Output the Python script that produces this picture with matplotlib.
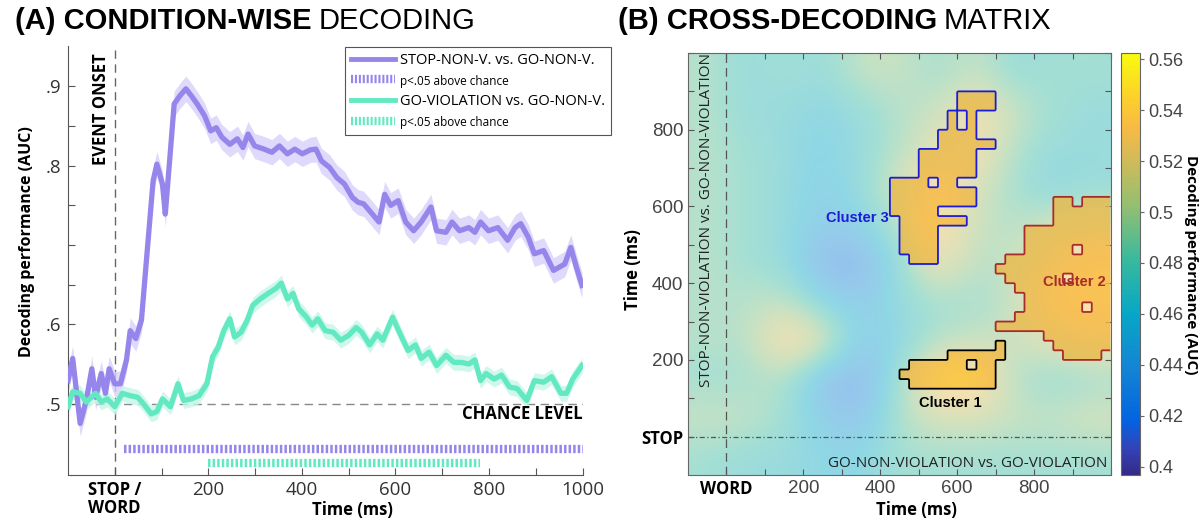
import numpy as np
import matplotlib
matplotlib.use('Agg')
import matplotlib.pyplot as plt
from matplotlib.colors import LinearSegmentedColormap
from matplotlib.lines import Line2D
from matplotlib import font_manager

# ---------------- data: panel A (condition-wise decoding) ----------------
stop_t = [-100, -90, -74, -61, -49, -41, -29, -20, -12, 0, 12, 25, 33, 45, 57, 70, 82, 90, 102, 108,
          119, 127, 139, 152, 164, 176, 192, 205, 217, 229, 246, 262, 274, 285, 299, 319, 336, 352, 369, 385,
          401, 418, 430, 442, 459, 475, 491, 508, 520, 532, 545, 565, 577, 590, 606, 622, 639, 655, 676, 688,
          708, 721, 737, 757, 770, 782, 799, 819, 840, 856, 868, 884, 897, 917, 938, 950, 962, 975, 987, 999]
stop_auc = [.529, .557, .475, .504, .544, .508, .538, .513, .544, .525, .525, .555, .592, .582, .605, .697, .781, .802, .777, .739,
            .819, .878, .888, .897, .888, .878, .863, .844, .848, .836, .827, .834, .823, .840, .825, .821, .817, .825, .815, .821,
            .815, .820, .821, .806, .798, .785, .777, .760, .754, .752, .743, .729, .764, .750, .756, .729, .718, .729, .748, .718,
            .716, .729, .718, .722, .716, .729, .718, .722, .706, .722, .727, .710, .689, .693, .668, .672, .676, .697, .672, .649]
stop_sem = 0.016

viol_t = [-100, -90, -74, -61, -41, -29, -16, 0, 16, 33, 49, 61, 78, 90, 102, 119, 135, 147, 164, 180,
          197, 209, 221, 233, 246, 256, 270, 283, 295, 311, 328, 344, 356, 369, 381, 393, 410, 422, 434, 450,
          467, 483, 500, 516, 528, 545, 561, 573, 594, 610, 627, 643, 655, 672, 688, 708, 725, 741, 757, 770,
          782, 794, 811, 827, 844, 860, 881, 897, 917, 934, 954, 966, 979, 999]
viol_auc = [.496, .515, .513, .502, .513, .502, .506, .496, .513, .510, .508, .500, .487, .490, .506, .496, .525, .504, .506, .510,
            .525, .559, .571, .592, .607, .584, .590, .605, .624, .632, .639, .645, .652, .632, .639, .620, .609, .599, .607, .592,
            .590, .580, .586, .596, .590, .574, .588, .580, .609, .588, .567, .574, .557, .565, .548, .561, .552, .552, .550, .555,
            .529, .538, .531, .536, .521, .519, .504, .529, .527, .534, .513, .513, .531, .548]
viol_sem = 0.010

stop_sig = [(20, 1000)]
viol_sig = [(200, 780)]

# ---------------- data: panel B (cross-decoding matrix) ----------------
# rows: train time 950 ... -50 ms, cols: test time -50 ... 950 ms (100 ms bins)
heat = [
    [.49, .47, .48, .47, .50, .50, .48, .50, .47, .48, .48],
    [.49, .47, .47, .46, .47, .49, .50, .53, .50, .48, .47],
    [.49, .48, .47, .455, .47, .49, .52, .53, .49, .47, .47],
    [.49, .48, .47, .45, .47, .51, .535, .51, .48, .46, .47],
    [.49, .48, .47, .445, .455, .49, .54, .50, .49, .51, .52],
    [.49, .48, .47, .425, .42, .47, .53, .49, .50, .53, .535],
    [.49, .49, .50, .46, .445, .47, .48, .48, .50, .535, .535],
    [.49, .49, .54, .525, .445, .46, .49, .50, .50, .52, .53],
    [.48, .48, .49, .43, .42, .48, .545, .545, .49, .47, .48],
    [.50, .50, .48, .45, .435, .49, .51, .51, .50, .50, .51],
    [.48, .47, .47, .46, .46, .48, .48, .48, .48, .48, .48],
]

# significant clusters on a 25 ms grid (44 x 44), runs of (row, first col, last col); row 0 = top
cluster1_runs = [(30, 32, 32), (31, 27, 32), (32, 23, 31), (33, 22, 31), (34, 23, 31)]
cluster2_runs = [(15, 38, 39), (15, 41, 43), (16, 38, 43), (17, 38, 43), (18, 35, 43), (19, 35, 43),
                 (20, 35, 43), (21, 33, 43), (22, 32, 43), (23, 33, 43), (24, 34, 43), (25, 35, 43),
                 (26, 35, 43), (27, 34, 43), (28, 32, 43), (29, 37, 43), (30, 38, 43), (31, 39, 42)]
cluster3_runs = [(4, 28, 31), (5, 28, 31), (6, 27, 29), (7, 27, 29), (8, 26, 29), (9, 26, 31),
                 (10, 24, 29), (11, 24, 29), (12, 24, 29), (13, 21, 27), (14, 21, 29), (15, 21, 29),
                 (16, 21, 25), (17, 22, 28), (18, 22, 25), (19, 22, 25), (20, 22, 25), (21, 23, 25)]
cluster_holes = [(32, 29), (20, 40), (23, 39), (26, 41), (6, 28), (7, 28), (13, 25)]

# ---------------- style ----------------
W, H = 1200, 532
purple, purple_fill = '#9686ec', '#d8d0fa'
green, green_fill = '#62e9c1', '#c4f6e6'
names = {f.name for f in font_manager.fontManager.ttflist}
narrow = 'Liberation Sans Narrow' if 'Liberation Sans Narrow' in names else 'Liberation Sans'
label_font = 'Open Sans'
tick_font = 'Liberation Sans'

parula_pts = [(0 / 63, (0.2081, 0.1663, 0.5292)), (4 / 63, (0.1959, 0.2645, 0.7279)),
              (8 / 63, (0.0117, 0.3875, 0.8820)), (16 / 63, (0.0793, 0.5200, 0.8312)),
              (24 / 63, (0.0228, 0.6535, 0.7768)), (32 / 63, (0.2178, 0.7250, 0.6193)),
              (40 / 63, (0.5709, 0.7485, 0.4494)), (48 / 63, (0.8507, 0.7299, 0.3360)),
              (52 / 63, (0.9739, 0.7314, 0.2666)), (56 / 63, (0.9880, 0.8066, 0.1794)),
              (1.0, (0.9763, 0.9831, 0.0538))]
parula = LinearSegmentedColormap.from_list('parula', parula_pts)
vmin, vmax = 0.3967, 0.5625

fig = plt.figure(figsize=(W / 100, H / 100), dpi=100)

# ================= panel A =================
ax1 = fig.add_axes([68 / W, 1 - 475 / H, 514.5 / W, 429 / H])
ax1.set_xlim(-100, 1000)
ax1.set_ylim(0.41, 0.951)

for t, v, sem, c, fc in [(stop_t, stop_auc, stop_sem, purple, purple_fill),
                         (viol_t, viol_auc, viol_sem, green, green_fill)]:
    t = np.array(t)
    v = np.array(v)
    ax1.fill_between(t, v - sem, v + sem, color=fc, lw=0, alpha=0.8, zorder=2)
    ax1.plot(t, v, color=c, lw=3.8, zorder=3, solid_joinstyle='round')

hatch = (0, (0.3, 0.25))
for s, e in stop_sig:
    ax1.plot([s, e], [0.4425, 0.4425], color=purple, lw=6, linestyle=hatch, dash_capstyle='butt')
for s, e in viol_sig:
    ax1.plot([s, e], [0.425, 0.425], color=green, lw=6, linestyle=hatch, dash_capstyle='butt')

ax1.axhline(0.5, color='#888888', lw=1, dashes=(6, 4), zorder=1)
ax1.axvline(0, color='#666666', lw=1, dashes=(6, 4), zorder=1)

ax1.spines['top'].set_visible(False)
ax1.spines['right'].set_visible(False)
for s in ('left', 'bottom'):
    ax1.spines[s].set_color('#555555')
ax1.set_xticks(np.arange(0, 1001, 100))
ax1.set_xticklabels(['STOP /\nWORD', '', '200', '', '400', '', '600', '', '800', '', '1000'])
ax1.set_yticks(np.arange(0.5, 0.901, 0.05))
ax1.set_yticklabels(['.5', '', '.6', '', '', '', '.8', '', '.9'])
ax1.tick_params(direction='in', length=5, color='#555555', labelsize=13.5, labelcolor='#333333')
ax1.tick_params(axis='y', pad=5)
ax1.tick_params(axis='x', pad=4)
for lab in ax1.get_xticklabels() + ax1.get_yticklabels():
    lab.set_fontfamily(label_font)
first = ax1.get_xticklabels()[0]
first.set_fontweight('bold')
first.set_fontsize(12)
first.set_color('black')
first.set_linespacing(1.0)
first.set_multialignment('left')

ax1.set_xlabel('Time (ms)', fontfamily=label_font, fontweight='bold', fontsize=12)
ax1.xaxis.set_label_coords(0.552, -0.082)
ax1.xaxis.label.set_verticalalignment('center')
ax1.set_ylabel('Decoding performance (AUC)', fontfamily=label_font, fontweight='bold', fontsize=11.5)
ax1.yaxis.set_label_coords(-0.08, 0.543)
ax1.yaxis.label.set_verticalalignment('center')

ax1.text(-29, 0.872, 'EVENT ONSET', rotation=90, ha='center', va='center',
         fontfamily=label_font, fontweight='bold', fontsize=12)
ax1.text(1000, 0.4865, 'CHANCE LEVEL', ha='right', va='center',
         fontfamily=label_font, fontweight='bold', fontsize=12)

handles = [Line2D([], [], color=purple, lw=3.5),
           Line2D([], [], color=purple, lw=6, linestyle=(0, (0.25, 0.22)), dash_capstyle='butt'),
           Line2D([], [], color=green, lw=3.5),
           Line2D([], [], color=green, lw=6, linestyle=(0, (0.25, 0.22)), dash_capstyle='butt')]
labels = ['STOP-NON-V. vs. GO-NON-V.', 'p<.05 above chance',
          'GO-VIOLATION vs. GO-NON-V.', 'p<.05 above chance']
leg = ax1.legend(handles, labels, loc='upper left', bbox_to_anchor=(345 / W, 1 - 47 / H),
                 bbox_transform=fig.transFigure, fancybox=False, edgecolor='#555555', framealpha=1,
                 handlelength=3.0, handletextpad=0.35, borderaxespad=0, labelspacing=0.45,
                 borderpad=0.4, prop=dict(family=label_font, size=10.5))
leg.get_frame().set_linewidth(0.8)
for i in (1, 3):
    leg.get_texts()[i].set_fontsize(8.5)

# ================= panel B =================
ax2 = fig.add_axes([688 / W, 1 - 475 / H, 423 / W, 422 / H])
ext = [-100, 1000, -100, 1000]
heat_arr = np.array(heat)
ax2.imshow(heat_arr, extent=ext, cmap=parula, vmin=vmin, vmax=vmax, alpha=0.45,
           interpolation='bicubic', aspect='auto', zorder=1)
im_c = ax2.imshow(np.maximum(heat_arr, 0.528), extent=ext, cmap=parula, vmin=vmin, vmax=vmax,
                  alpha=0.82, interpolation='bicubic', aspect='auto', zorder=2)

mask = np.zeros((44, 44), dtype=int)
for lab_id, runs in [(1, cluster1_runs), (2, cluster2_runs), (3, cluster3_runs)]:
    for r, i0, i1 in runs:
        mask[r, i0:i1 + 1] = lab_id
for r, i in cluster_holes:
    mask[r, i] = 0

# upsample the mask so the outlines follow the grid cells (stepped, like the original)
up = 6
mask_f = np.kron(mask, np.ones((up, up), dtype=int))
step = 25 / up
xf = -100 + step * (np.arange(44 * up) + 0.5)
yf = 1000 - step * (np.arange(44 * up) + 0.5)

cf = ax2.contourf(xf, yf, (mask_f > 0).astype(float), levels=[0.5, 2])
clip = cf.get_paths()[0]
cf.remove()
im_c.set_clip_path(clip, transform=ax2.transData)

for lab_id, col in [(1, 'black'), (2, '#a82b2b'), (3, '#1c1cd6')]:
    ax2.contour(xf, yf, (mask_f == lab_id).astype(float), levels=[0.5], colors=col,
                linewidths=1.3, zorder=4)

ax2.axvline(0, color='#555555', lw=0.9, dashes=(7, 4), zorder=3)
ax2.axhline(0, color='#555555', lw=0.9, dashes=(4, 2, 1, 2), zorder=3)
ax2.set_xlim(-100, 1000)
ax2.set_ylim(-100, 1000)

ax2.text(422, 571, 'Cluster 3', ha='right', va='center', color='#1c1cd6',
         fontfamily=tick_font, fontweight='bold', fontsize=10.5, zorder=5)
ax2.text(905, 404, 'Cluster 2', ha='center', va='center', color='#a82b2b',
         fontfamily=tick_font, fontweight='bold', fontsize=10.5, zorder=5)
ax2.text(581, 87, 'Cluster 1', ha='center', va='center', color='black',
         fontfamily=tick_font, fontweight='bold', fontsize=10.5, zorder=5)
ax2.text(-53, 1000, 'STOP-NON-VIOLATION vs. GO-NON-VIOLATION', rotation=90, ha='center', va='top',
         fontfamily=label_font, fontsize=11, color='#222222', zorder=5)
ax2.text(990, -70, 'GO-NON-VIOLATION vs. GO-VIOLATION', ha='right', va='center',
         fontfamily=label_font, fontsize=11, color='#222222', zorder=5)

ax2.set_xticks(np.arange(0, 1001, 100))
ax2.set_xticklabels(['WORD', '', '200', '', '400', '', '600', '', '800', '', ''])
ax2.set_yticks(np.arange(0, 1001, 100))
ax2.set_yticklabels(['STOP', '', '200', '', '400', '', '600', '', '800', '', ''])
ax2.tick_params(direction='in', length=4, color='#555555', top=True, right=True,
                labelsize=13.5, labelcolor='#444444')
for lab in ax2.get_xticklabels() + ax2.get_yticklabels():
    lab.set_fontfamily(tick_font)
for lab in (ax2.get_xticklabels()[0], ax2.get_yticklabels()[0]):
    lab.set_fontfamily(label_font)
    lab.set_fontweight('bold')
    lab.set_fontsize(12)
    lab.set_color('black')
for s in ax2.spines.values():
    s.set_color('#666666')
    s.set_linewidth(0.8)

ax2.set_xlabel('Time (ms)', fontfamily=label_font, fontweight='bold', fontsize=12)
ax2.xaxis.set_label_coords(0.539, -0.083)
ax2.xaxis.label.set_verticalalignment('center')
ax2.set_ylabel('Time (ms)', fontfamily=label_font, fontweight='bold', fontsize=12)
ax2.yaxis.set_label_coords(-0.13, 0.486)
ax2.yaxis.label.set_verticalalignment('center')

cax = fig.add_axes([1121 / W, 1 - 475 / H, 19 / W, 422 / H])
sm = plt.cm.ScalarMappable(cmap=parula, norm=plt.Normalize(vmin, vmax))
cb = fig.colorbar(sm, cax=cax)
cb_ticks = [0.40, 0.42, 0.44, 0.46, 0.48, 0.50, 0.52, 0.54, 0.56]
cb.set_ticks(cb_ticks)
cb.set_ticklabels(['%g' % v for v in cb_ticks])
cb.outline.set_edgecolor('#666666')
cb.outline.set_linewidth(0.8)
cax.tick_params(direction='out', length=3, color='#666666', labelsize=13, labelcolor='#444444', pad=3)
for lab in cax.get_yticklabels():
    lab.set_fontfamily(tick_font)
cb.set_label('Decoding performance (AUC)', rotation=270, fontfamily=label_font,
             fontweight='bold', fontsize=11)
cax.yaxis.set_label_coords(3.68, 0.498)
cax.yaxis.label.set_verticalalignment('center')

# ================= titles =================
renderer = fig.canvas.get_renderer()
for x0, bold, light in [(15, '(A) CONDITION-WISE', 'DECODING'), (618, '(B) CROSS-DECODING', 'MATRIX')]:
    t1 = fig.text(x0 / W, 1 - 21 / H, bold, fontfamily=narrow, fontweight='bold',
                  fontsize=21, va='center', ha='left')
    bb = t1.get_window_extent(renderer)
    fig.text((bb.x1 + 7) / W, 1 - 21 / H, light, fontfamily=narrow, fontweight='normal',
             fontsize=21, va='center', ha='left')

fig.savefig('out.png', dpi=100)
